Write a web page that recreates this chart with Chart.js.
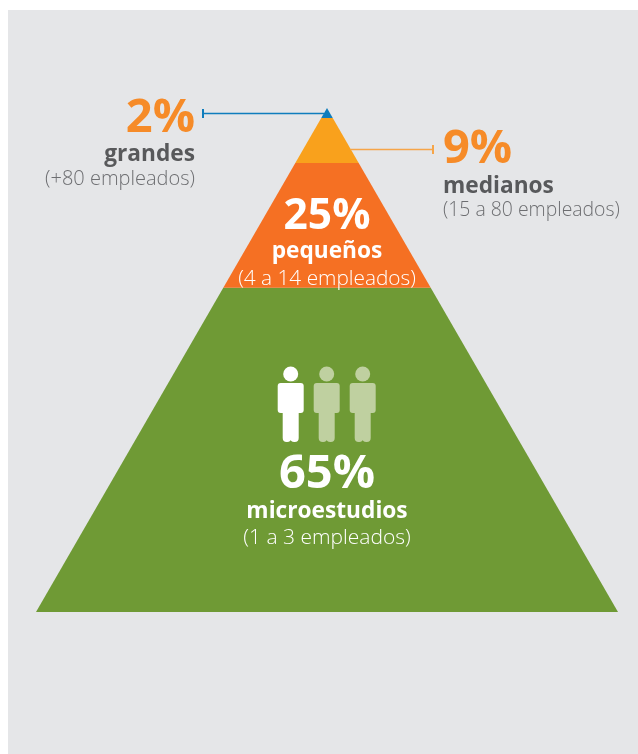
<!DOCTYPE html>
<html lang="es">
<head>
<meta charset="utf-8">
<title>Estudios por tamaño</title>
<script src="https://cdn.jsdelivr.net/npm/chart.js@4/dist/chart.umd.js"></script>
<style>
  html, body { margin: 0; height: 100%; background: #fff; overflow: hidden; }
  #panel { position: absolute; left: 8px; top: 10px; right: 0; bottom: 0; background: #e5e6e8; }
  #pyramid { position: absolute; left: 0; top: 0; }
</style>
</head>
<body>
<div id="panel"></div>
<canvas id="pyramid" width="638" height="754"></canvas>
<script>
// from the top of the pyramid to the base
const categories = ['grandes', 'medianos', 'pequeños', 'microestudios'];
const shares = [2, 9, 25, 65];
const staffRanges = ['(+80 empleados)', '(15 a 80 empleados)', '(4 a 14 empleados)', '(1 a 3 empleados)'];
const colors = ['#0f7dbd', '#f9a11c', '#f57023', '#6f9a35'];
const peopleHighlighted = [true, false, false];

const total = shares.reduce((sum, s) => sum + s, 0);
const FONT = '"Open Sans", sans-serif';

// half width of the pyramid at a given height of the y scale
const halfWidth = (level) => (level >= total ? 0 : (total - level) / total);

let upper = total;
const datasets = shares.map((share, i) => {
  const lower = upper - share;
  const data = [
    { x: -halfWidth(upper), y: upper },
    { x: halfWidth(upper), y: upper },
    { x: halfWidth(lower), y: lower },
    { x: -halfWidth(lower), y: lower },
  ];
  upper = lower;
  return {
    label: categories[i],
    data,
    showLine: true,
    fill: 'shape',
    backgroundColor: colors[i],
    borderWidth: 0,
    pointRadius: 0,
    tension: 0,
  };
});

const text = (ctx, str, x, y, font, color, align) => {
  ctx.font = font + ' ' + FONT;
  ctx.fillStyle = color;
  ctx.textAlign = align;
  ctx.textBaseline = 'alphabetic';
  ctx.fillText(str, x, y);
};

// one block of label: percentage, category name, staff range
const labelBlock = (ctx, i, x, rows, align, dark, pctSize, subSize) => {
  const pct = dark ? '#f68b28' : '#fff';
  const name = dark ? '#58595b' : '#fff';
  const sub = dark ? '#6d6e71' : '#fff';
  text(ctx, shares[i] + '%', x, rows[0], '700 ' + pctSize + 'px', pct, align);
  text(ctx, categories[i], x, rows[1], '700 22.7px', name, align);
  text(ctx, staffRanges[i], x, rows[2], '300 ' + subSize + 'px', sub, align);
};

const leader = (chart, y, endX, color) => {
  const { ctx, scales } = chart;
  const level = scales.y.getValueForPixel(y);
  const side = endX < scales.x.getPixelForValue(0) ? -1 : 1;
  const edgeX = scales.x.getPixelForValue(side * halfWidth(level));
  ctx.strokeStyle = color;
  ctx.lineWidth = 1.5;
  ctx.beginPath();
  ctx.moveTo(edgeX, y + 0.5);
  ctx.lineTo(endX, y + 0.5);
  ctx.stroke();
  ctx.lineWidth = 2;
  ctx.beginPath();
  ctx.moveTo(endX, y - 4);
  ctx.lineTo(endX, y + 5);
  ctx.stroke();
};

const person = (ctx, x, color) => {
  ctx.fillStyle = color;
  ctx.beginPath();
  ctx.arc(x, 374, 7.5, 0, Math.PI * 2);
  ctx.fill();
  ctx.beginPath();
  ctx.roundRect(x - 13, 383, 26, 30, 3);
  ctx.fill();
  // legs, split by a small notch at the feet
  ctx.beginPath();
  ctx.roundRect(x - 8, 405, 8.4, 37, [0, 0, 4, 4]);
  ctx.roundRect(x - 0.4, 405, 8.4, 37, [0, 0, 4, 4]);
  ctx.fill();
};

const annotations = {
  id: 'annotations',
  afterDatasetsDraw(chart) {
    const { ctx } = chart;
    ctx.save();
    leader(chart, 113, 203, '#0f7dbd');
    leader(chart, 149, 433, '#f6a548');

    labelBlock(ctx, 0, 195, [132, 161, 185], 'right', true, 47, 20);
    labelBlock(ctx, 1, 443, [163, 193, 216], 'left', true, 47, 19.4);
    labelBlock(ctx, 2, 327, [229, 258, 285], 'center', false, 42.5, 20.8);
    labelBlock(ctx, 3, 327, [488, 518, 544], 'center', false, 47, 21);

    peopleHighlighted.forEach((on, i) => {
      person(ctx, 290.7 + i * 36, on ? '#fff' : '#bfd0a0');
    });
    ctx.restore();
  },
};

new Chart(document.getElementById('pyramid').getContext('2d'), {
  type: 'scatter',
  data: { datasets },
  options: {
    responsive: false,
    animation: false,
    layout: { padding: { left: 36, right: 20, top: 108, bottom: 142 } },
    scales: {
      x: { type: 'linear', min: -1, max: 1, display: false },
      y: { type: 'linear', min: 0, max: total, display: false },
    },
    plugins: { legend: { display: false }, tooltip: { enabled: false } },
  },
  plugins: [annotations],
});
</script>
</body>
</html>
